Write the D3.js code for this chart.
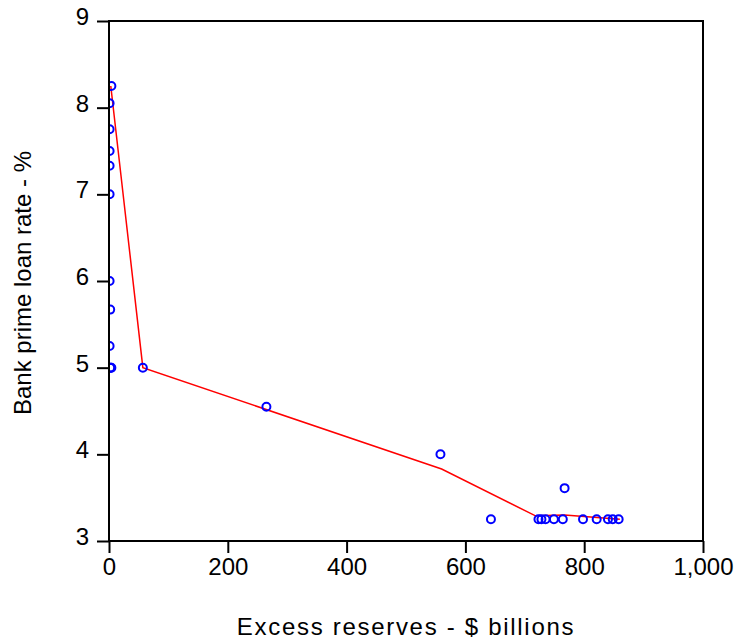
<!DOCTYPE html>
<html>
<head>
<meta charset="utf-8">
<script src="https://cdn.jsdelivr.net/npm/d3@7"></script>
<style>
  body { margin: 0; background: #fff; }
  text { font-family: "Liberation Sans", Arial, sans-serif; }
</style>
</head>
<body>
<div id="chart"></div>
<script>
// scatter of excess reserves vs prime rate
reserves = [4, 1, 1, 1, 1, 1, 1, 2, 1, 2, 3, 4, 57, 265, 558, 643, 767,
            723, 728, 735, 749, 764, 798, 821, 840, 848, 858]
primeRate = [8.25, 8.05, 7.75, 7.5, 7.33, 7.0, 6.0, 5.67, 5.25, 5.0, 5.0, 5.0, 5.0, 4.55, 4.0, 3.25, 3.61,
             3.25, 3.25, 3.25, 3.25, 3.25, 3.25, 3.25, 3.25, 3.25, 3.25]
// fitted line
fitX = [3, 57, 560, 718, 767, 860]
fitY = [8.25, 5.0, 3.83, 3.29, 3.3, 3.25]
xTicks = [0, 200, 400, 600, 800, 1000]
yTicks = [3, 4, 5, 6, 7, 8, 9]

margin = { top: 21, right: 34, bottom: 100, left: 109 };
width = 737 - margin.left - margin.right;
height = 641 - margin.top - margin.bottom;

svg = d3.select("#chart")
    .append("svg")
    .attr("width", 737)
    .attr("height", 641)
    .append("g")
    .attr("transform", "translate(" + margin.left + "," + margin.top + ")");

svg.append("clipPath")
    .attr("id", "plotClip")
    .append("rect")
    .attr("x", 0).attr("y", 0)
    .attr("width", width).attr("height", height);

xScale = d3.scaleLinear().domain([0, 1000]).range([0, width]);
yScale = d3.scaleLinear().domain([3, 9]).range([height, 0]);

xAxis = svg.append("g")
    .attr("transform", "translate(0," + height + ")")
    .call(d3.axisBottom(xScale).tickValues(xTicks).tickSize(12).tickPadding(5).tickFormat(d3.format(",")));

yAxis = svg.append("g")
    .call(d3.axisLeft(yScale).tickValues(yTicks).tickSize(12).tickPadding(8).tickFormat(d3.format("d")));

yAxis.selectAll(".tick text").attr("dy", "0.15em");

svg.selectAll(".domain").remove();
svg.selectAll(".tick line").attr("stroke", "black").attr("stroke-width", 2);
svg.selectAll(".tick text").style("font-size", "24px").attr("fill", "black");

plot = svg.append("g").attr("clip-path", "url(#plotClip)");

line = d3.line()
    .x((d, i) => xScale(fitX[i]))
    .y((d, i) => yScale(fitY[i]));

plot.append("path")
    .datum(fitX)
    .attr("fill", "none")
    .attr("stroke", "red")
    .attr("stroke-width", 1.5)
    .attr("d", line);

plot.selectAll(".pt")
    .data(reserves)
    .enter().append("circle")
    .attr("class", "pt")
    .attr("cx", d => xScale(d))
    .attr("cy", (d, i) => yScale(primeRate[i]))
    .attr("r", 4)
    .attr("fill", "none")
    .attr("stroke", "blue")
    .attr("stroke-width", 2);

svg.append("rect")
    .attr("x", 0).attr("y", 0)
    .attr("width", width).attr("height", height)
    .attr("fill", "none")
    .attr("stroke", "black")
    .attr("stroke-width", 2);

svg.append("text")
    .attr("x", width / 2)
    .attr("y", height + 94)
    .style("text-anchor", "middle")
    .style("font-size", "24px")
    .style("letter-spacing", "1.7px")
    .text("Excess reserves - $ billions");

svg.append("text")
    .attr("transform", "rotate(-90)")
    .attr("x", -262)
    .attr("y", -78)
    .style("text-anchor", "middle")
    .style("font-size", "24px")
    .text("Bank prime loan rate - %");
</script>
</body>
</html>
